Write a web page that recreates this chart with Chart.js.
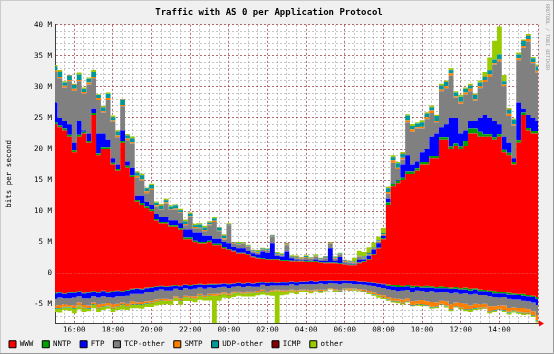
<!DOCTYPE html>
<html>
<head>
<meta charset="utf-8">
<script src="https://cdn.jsdelivr.net/npm/chart.js@4/dist/chart.umd.min.js"></script>
<style>
  html, body { margin: 0; padding: 0; background: #f0f0f0; }
  #wrap { width: 554px; height: 354px; }
</style>
</head>
<body>
<div id="wrap"><canvas id="chart" width="554" height="354"></canvas></div>
<script>
// time axis: hours since midnight of the first day, one sample every 15 minutes (15:00 -> 16:00 next day)
const hours = [];
for (let h = 15; h <= 40; h += 0.25) hours.push(h);

const protocols = ['WWW', 'NNTP', 'FTP', 'TCP-other', 'SMTP', 'UDP-other', 'ICMP', 'other'];
const colors = ['#ff0000', '#00a000', '#0000ff', '#808080', '#ff8000', '#009999', '#800000', '#99cc00'];

// outgoing traffic, Mbit/s (drawn above zero)
const wwwOut = [24,23.5,23,22,19.5,22,22.5,21,25.5,19,20,20,17.5,16.5,21,17,15.5,11.5,11,10.5,10,
  8.5,8,8,7.5,7.5,7,5.5,5.5,5,4.8,4.8,5,4.5,4.5,4,
  3.8,3.5,3.2,3.2,3,2.6,2.4,2.3,2.2,2.2,2.2,2.0,2.0,1.9,1.9,1.9,1.8,1.8,1.8,1.7,1.6,1.6,1.6,1.5,1.4,1.3,
  1.3,1.6,1.8,2.2,3.0,4.0,5.5,
  11,14,14.5,15,16,16,16.5,17.5,17.5,18.5,18.5,21.5,21.5,20,20.5,20,20.5,22.5,22.5,22,22,22,21.5,22,19.5,19,17.5,21,25.5,23,22.5,22.5];
const nntpOut = [0.3,0.3,0.3,0.3,0.3,0.3,0.3,0.3,0.3,0.3,0.3,0.3,0.3,0.3,0.3,0.3,0.3,0.3,0.3,0.3,0.3,
  0.25,0.25,0.25,0.25,0.25,0.25,0.25,0.25,0.25,0.25,0.25,0.25,0.25,0.25,0.25,
  0.12,0.12,0.12,0.12,0.12,0.12,0.12,0.12,0.12,0.12,0.12,0.12,0.12,0.12,0.12,0.12,0.12,0.12,0.12,0.12,0.12,0.12,0.12,0.12,0.12,0.12,
  0.12,0.12,0.12,0.12,0.12,0.12,0.12,
  0.4,0.4,0.4,0.4,0.4,0.4,0.4,0.4,0.4,0.4,0.4,0.4,0.4,0.4,0.4,0.4,0.8,0.8,0.8,0.8,0.4,0.4,0.4,0.4,0.4,0.4,0.4,0.4,0.4,0.4,0.4,0.4];
const ftpOut = [3.2,1.2,1.2,1.7,1.2,2.2,0.2,1.2,0.7,3.2,2.2,1.2,0.7,0.7,1.7,0.7,1.2,0.7,1.2,0.7,0.7,
  0.8,0.8,0.8,0.8,0.8,0.8,1.3,1.3,1.3,1.5,1.0,0.8,0.8,0.8,0.8,
  0.9,0.6,0.7,0.7,0.5,0.5,0.5,1.1,1.0,2.5,0.5,0.6,1.4,0.4,0.2,0.1,0.2,0.1,0.3,0.2,0.3,2.3,0.3,1.0,0.1,0.1,
  0.1,0.5,0.3,0.5,0.7,0.7,0.4,
  0.6,0.1,0.1,2.1,2.6,1.1,1.1,1.6,2.1,3.1,3.6,1.6,2.1,4.6,4.1,2.1,1.7,1.2,1.2,2.2,3.1,2.6,2.6,1.6,2.1,1.6,0.6,6.1,0.6,2.1,2.1,1.6];
const tcpOut = [4.9,6.4,5.4,6.9,8.4,6.4,5.9,7.9,4.9,5.4,3.4,6.4,5.9,4.4,3.9,3.4,3.9,2.9,2.4,1.4,2.4,
  1.2,1.2,2.2,1.7,1.7,1.7,0.7,2.0,0.7,0.7,0.7,1.7,2.7,1.2,0.4,
  2.9,0.5,0.6,0.7,0.6,0.3,0.3,0.3,0.3,1.1,0.2,0.2,1.0,0.2,0.2,0.2,0.4,0.3,0.4,0.2,0.4,0.7,0.3,0.4,0.2,0.2,
  0.1,0.4,0.2,0.2,0.2,0.2,0.2,
  0.8,3.3,1.8,0.8,5.3,5.3,5.3,3.8,4.8,3.8,1.8,5.8,5.8,6.8,3.3,4.8,5.8,4.8,3.3,4.8,5.3,6.6,9.1,10.1,8.1,4.3,5.3,6.8,9.8,11.8,8.8,7.8];
const smtpOut = [0.3,0.2,0.3,0.2,0.3,0.2,0.3,0.3,0.2,0.3,0.2,0.3,0.2,0.3,0.2,0.3,0.2,0.3,0.2,0.3,0.2,
  0.2,0.1,0.2,0.1,0.2,0.1,0.2,0.1,0.2,0.1,0.2,0.1,0.2,0.1,0.2,
  0.1,0.06,0.1,0.06,0.1,0.06,0.1,0.06,0.1,0.06,0.1,0.06,0.1,0.06,0.1,0.06,0.1,0.06,0.1,0.06,0.1,0.06,0.1,0.06,0.1,0.06,
  0.1,0.1,0.1,0.1,0.1,0.1,0.1,
  0.3,0.4,0.2,0.3,0.3,0.4,0.2,0.3,0.3,0.4,0.2,0.3,0.3,0.4,0.2,0.3,0.3,0.4,0.2,0.3,0.3,0.4,0.2,0.3,0.3,0.4,0.2,0.3,0.3,0.4,0.2,0.3];
const udpOut = [0.6,0.8,0.5,0.7,0.6,0.9,0.5,0.6,0.8,0.5,0.6,0.7,0.5,0.6,0.8,0.5,0.6,0.5,0.7,0.5,0.6,
  0.4,0.5,0.3,0.4,0.5,0.3,0.4,0.4,0.3,0.5,0.4,0.3,0.4,0.5,0.4,
  0.1,0.15,0.1,0.12,0.15,0.1,0.12,0.1,0.15,0.12,0.1,0.12,0.15,0.1,0.12,0.1,0.15,0.12,0.1,0.12,0.15,0.1,0.12,0.1,0.15,0.12,
  0.15,0.1,0.2,0.15,0.1,0.2,0.15,
  0.6,0.5,0.7,0.6,0.8,0.5,0.6,0.7,0.6,0.5,0.8,0.6,0.7,0.5,0.6,0.8,0.6,0.5,0.7,0.6,0.5,0.7,0.6,0.8,0.5,0.6,0.7,0.6,0.8,0.5,0.6,0.7];
const icmpOut = [0.02,0.03,0.02,0.02,0.03,0.02,0.02,0.03,0.02,0.02,0.03,0.02,0.02,0.03,0.02,0.02,0.03,0.02,0.02,0.03,0.02,
  0.02,0.02,0.03,0.02,0.02,0.03,0.02,0.02,0.03,0.02,0.02,0.03,0.02,0.02,0.03,
  0.02,0.02,0.02,0.02,0.02,0.02,0.02,0.02,0.02,0.02,0.02,0.02,0.02,0.02,0.02,0.02,0.02,0.02,0.02,0.02,0.02,0.02,0.02,0.02,0.02,0.02,
  0.02,0.02,0.02,0.02,0.02,0.02,0.02,
  0.03,0.02,0.02,0.03,0.02,0.02,0.03,0.02,0.02,0.03,0.02,0.02,0.03,0.02,0.02,0.03,0.02,0.02,0.03,0.02,0.02,0.03,0.02,0.02,0.03,0.02,0.02,0.03,0.02,0.02,0.03,0.02];
const otherOut = [0.2,0.3,0.2,0.1,0.2,0.3,0.2,0.2,0.3,0.1,0.2,0.2,0.3,0.2,0.1,0.2,0.3,0.2,0.2,0.1,0.2,
  0.2,0.3,0.2,0.2,0.1,0.2,0.3,0.2,0.2,0.2,0.3,0.2,0.2,0.1,0.2,
  0.1,0.1,0.2,0.1,0.1,0.1,0.2,0.1,0.1,0.1,0.2,0.1,0.1,0.1,0.2,0.1,0.1,0.1,0.2,0.1,0.1,0.1,0.2,0.1,0.1,0.1,
  0.6,0.8,0.7,0.9,0.7,0.6,0.8,
  0.2,0.3,0.2,0.3,0.2,0.3,0.2,0.3,0.2,0.3,0.2,0.3,0.2,0.3,0.2,0.3,0.2,0.3,0.2,0.3,0.8,2.0,3.0,4.5,1.0,0.3,0.2,0.3,0.2,0.3,0.2,0.3];

// incoming traffic, Mbit/s (drawn below zero)
const wwwIn = [3.1,3.0,3.2,3.0,3.0,2.9,3.1,3.0,2.9,3.0,2.8,3.0,2.9,2.8,2.9,2.7,
  2.5,2.4,2.5,2.3,2.2,
  2.1,2.0,2.1,2.0,1.9,2.0,1.8,1.9,1.8,1.7,1.8,1.7,1.7,
  1.7,1.6,1.7,1.6,1.5,1.6,1.5,1.6,1.5,1.4,1.5,1.4,1.5,1.4,1.4,1.3,1.4,1.3,
  1.3,1.2,1.3,1.2,1.2,1.1,1.2,1.2,1.1,1.2,1.2,1.3,1.3,1.4,1.5,1.6,1.7,1.8,
  1.9,1.9,2.0,1.9,2.0,2.0,2.1,2.0,2.1,2.2,2.1,2.2,2.3,2.2,2.4,2.3,2.5,2.4,2.6,2.7,
  2.8,2.9,3.0,3.0,3.1,3.2,3.3,3.3,3.5,3.6,3.8];
const nntpIn = [0.1,0.1,0.1,0.1,0.1,0.1,0.1,0.1,0.1,0.1,0.1,0.1,0.1,0.1,0.1,0.1,0.1,0.1,0.1,0.1,0.1,0.1,0.1,0.1,0.1,0.1,0.1,0.1,0.1,0.1,0.1,0.1,0.1,0.1,
  0.05,0.05,0.05,0.05,0.05,0.05,0.05,0.05,0.05,0.05,0.05,0.05,0.05,0.05,0.05,0.05,0.05,0.05,0.05,0.05,0.05,0.05,0.05,0.05,0.05,0.05,0.05,0.05,0.05,0.05,0.05,0.05,0.05,0.05,0.05,
  0.2,0.2,0.3,0.2,0.2,0.3,0.2,0.2,0.3,0.2,0.2,0.3,0.2,0.2,0.3,0.2,0.3,0.3,0.2,0.3,0.2,0.2,0.3,0.2,0.2,0.3,0.2,0.2,0.3,0.2,0.2,0.3];
const ftpIn = [0.9,0.8,0.7,0.9,0.8,0.7,0.8,0.9,0.7,0.8,0.8,0.7,0.9,0.8,0.7,0.8,0.7,0.8,0.7,0.6,0.7,
  0.6,0.5,0.6,0.7,0.5,0.6,0.5,0.6,0.6,0.5,0.6,0.5,0.6,0.5,0.5,0.6,0.5,0.5,0.6,0.5,0.5,0.6,0.4,0.5,0.5,0.4,0.5,0.5,0.4,0.5,0.4,
  0.4,0.5,0.4,0.4,0.5,0.4,0.4,0.5,0.4,0.4,0.5,0.4,0.5,0.5,0.5,0.6,0.6,
  0.6,0.6,0.7,0.6,0.6,0.7,0.6,0.6,0.7,0.6,0.7,0.6,0.6,0.7,0.6,0.7,0.6,0.6,0.7,0.6,0.6,0.7,0.6,0.7,0.6,0.7,0.8,0.7,0.8,0.8,0.9,1.0];
const tcpIn = [1.1,1.2,1.0,1.1,1.3,1.0,1.1,1.2,1.0,1.1,1.2,1.0,1.1,1.2,1.0,1.3,1.2,1.4,1.3,1.5,1.4,
  1.4,1.5,1.3,1.4,1.2,1.3,1.2,1.1,1.2,1.0,1.1,1.0,0.9,1.0,0.9,
  0.9,0.8,0.9,0.8,0.9,0.8,0.7,0.8,0.9,0.8,0.7,0.8,0.8,0.9,0.8,0.9,
  0.9,1.0,0.9,1.0,0.9,0.8,0.9,1.0,0.9,0.8,0.7,0.8,0.8,0.9,1.0,1.1,1.2,
  1.2,1.3,1.2,1.4,1.3,1.5,1.6,1.4,1.5,1.7,1.6,1.4,1.5,1.8,1.6,1.5,1.7,1.8,1.6,1.5,1.4,1.6,1.5,1.3,1.4,1.5,1.3,1.4,1.2,1.3,1.4,1.6];
const smtpIn = [0.4,0.5,0.4,0.3,0.4,0.5,0.4,0.4,0.3,0.5,0.4,0.4,0.5,0.4,0.3,0.4,0.4,0.3,0.4,0.3,0.3,
  0.3,0.2,0.3,0.2,0.2,0.3,0.2,0.2,0.3,0.2,0.2,0.2,0.3,0.2,0.2,0.2,0.2,0.1,0.2,0.2,0.1,0.2,0.2,0.1,
  0.2,0.1,0.2,0.2,0.1,0.2,0.1,0.1,0.2,0.1,0.2,0.1,0.1,0.2,0.1,0.1,0.2,0.1,0.2,0.2,0.2,0.3,0.2,0.3,
  0.3,0.4,0.3,0.5,0.4,0.6,0.5,0.7,0.6,0.8,0.6,0.5,0.7,0.8,0.6,0.7,0.9,0.6,0.7,0.5,0.6,0.8,0.6,0.5,0.7,0.6,0.5,0.6,0.7,0.5,0.6,0.8];
const udpIn = [0.1,0.1,0.1,0.1,0.1,0.1,0.1,0.1,0.1,0.1,0.1,0.1,0.1,0.1,0.1,0.1,0.1,0.1,0.1,0.1,0.1,
  0.05,0.05,0.05,0.05,0.05,0.05,0.05,0.05,0.05,0.05,0.05,0.05,0.05,0.05,0.05,0.05,0.05,0.05,0.05,0.05,0.05,0.05,0.05,0.05,
  0.05,0.05,0.05,0.05,0.05,0.05,0.05,0.05,0.05,0.05,0.05,0.05,0.05,0.05,0.05,0.05,0.05,0.05,0.05,0.05,0.05,0.05,0.05,0.05,
  0.1,0.1,0.1,0.1,0.1,0.1,0.1,0.1,0.1,0.1,0.1,0.1,0.1,0.1,0.1,0.1,0.1,0.1,0.1,0.1,0.1,0.1,0.1,0.1,0.1,0.1,0.1,0.1,0.1,0.1,0.1,0.1];
const icmpIn = [0.02,0.02,0.02,0.02,0.02,0.02,0.02,0.02,0.02,0.02,0.02,0.02,0.02,0.02,0.02,0.02,0.02,0.02,0.02,0.02,0.02,
  0.02,0.02,0.02,0.02,0.02,0.02,0.02,0.02,0.02,0.02,0.02,0.02,0.02,0.02,0.02,0.02,0.02,0.02,0.02,0.02,0.02,0.02,0.02,0.02,
  0.02,0.02,0.02,0.02,0.02,0.02,0.02,0.02,0.02,0.02,0.02,0.02,0.02,0.02,0.02,0.02,0.02,0.02,0.02,0.02,0.02,0.02,0.02,0.02,
  0.02,0.02,0.02,0.02,0.02,0.02,0.02,0.02,0.02,0.02,0.02,0.02,0.02,0.02,0.02,0.02,0.02,0.02,0.02,0.02,0.02,0.02,0.02,0.02,0.02,0.02,0.02,0.02,0.02,0.02,0.02,0.02];
const otherIn = [0.5,0.6,0.4,0.5,0.7,0.5,0.6,0.4,0.5,0.6,0.5,0.4,0.6,0.5,0.7,0.5,0.6,0.5,0.6,0.5,0.6,
  0.6,0.7,0.5,0.6,0.5,0.7,0.6,0.5,0.6,0.7,0.5,0.8,4.6,0.9,0.6,
  0.5,0.6,0.5,0.4,0.5,0.6,0.4,0.5,0.4,0.6,5.5,0.5,0.4,0.3,0.3,0.2,
  0.2,0.2,0.1,0.2,0.1,0.1,0.2,0.1,0.1,0.1,0.2,0.1,0.1,0.2,0.2,0.3,0.2,
  0.2,0.2,0.3,0.2,0.2,0.1,0.2,0.2,0.1,0.2,0.2,0.1,0.2,0.2,0.1,0.2,0.2,0.3,0.2,0.2,0.1,0.2,0.2,0.1,0.2,0.3,0.2,0.2,0.3,0.2,0.2,0.3];

const outSeries = [wwwOut, nntpOut, ftpOut, tcpOut, smtpOut, udpOut, icmpOut, otherOut];
const inSeries = [wwwIn, nntpIn, ftpIn, tcpIn, smtpIn, udpIn, icmpIn, otherIn];

const mono = "'DejaVu Sans Mono', monospace";
const GRID = 'rgba(140,140,140,0.5)';
const MGRID = 'rgba(140,30,30,0.65)';
const pad2 = n => (n < 10 ? '0' : '') + n;

const datasets = [];
protocols.forEach((name, k) => {
  datasets.push({
    label: name, data: outSeries[k], stack: 'out',
    backgroundColor: colors[k], borderColor: colors[k], borderWidth: 0,
    pointRadius: 0, stepped: 'middle', fill: k === 0 ? 'origin' : '-1'
  });
});
protocols.forEach((name, k) => {
  datasets.push({
    label: name, data: inSeries[k].map(v => -v), stack: 'in',
    backgroundColor: colors[k], borderColor: colors[k], borderWidth: 0,
    pointRadius: 0, stepped: 'middle', fill: k === 0 ? 'origin' : '-1'
  });
});

const frame = {
  id: 'frame',
  beforeDraw(chart) {
    const {ctx, chartArea: a, width, height} = chart;
    ctx.save();
    ctx.fillStyle = '#f0f0f0';
    ctx.fillRect(0, 0, width, height);
    ctx.fillStyle = '#cbcbcb';
    ctx.fillRect(0, 0, width, 1);
    ctx.fillRect(0, 0, 1, height);
    ctx.fillStyle = '#999999';
    ctx.fillRect(0, height - 1, width, 1);
    ctx.fillRect(width - 1, 0, 1, height);
    ctx.fillStyle = '#ffffff';
    ctx.fillRect(a.left, a.top, a.right - a.left, a.bottom - a.top);
    ctx.restore();
  },
  afterDraw(chart) {
    const {ctx, chartArea: a} = chart;
    ctx.save();
    // arrow at end of the time axis
    ctx.fillStyle = '#ff0000';
    ctx.beginPath();
    ctx.moveTo(a.right + 6, a.bottom + 0.5);
    ctx.lineTo(a.right + 1, a.bottom - 2.5);
    ctx.lineTo(a.right + 1, a.bottom + 3.5);
    ctx.closePath();
    ctx.fill();
    // rrdtool signature
    ctx.translate(547, 4);
    ctx.rotate(Math.PI / 2);
    ctx.fillStyle = '#9a9a9a';
    ctx.font = "5px " + mono;
    ctx.textBaseline = 'middle';
    ctx.fillText('RRDTOOL / TOBI OETIKER', 0, 0);
    ctx.restore();
  }
};

new Chart(document.getElementById('chart'), {
  type: 'line',
  data: { labels: hours, datasets },
  plugins: [frame],
  options: {
    responsive: false,
    animation: false,
    events: [],
    layout: { padding: { left: 0, right: 16, top: 0, bottom: -4 } },
    plugins: {
      title: {
        display: true,
        text: 'Traffic with AS 0 per Application Protocol',
        color: '#000',
        font: { family: mono, size: 9, weight: 'bold', lineHeight: 1.2 },
        padding: { top: 7, bottom: 7 }
      },
      legend: {
        position: 'bottom',
        align: 'start',
        labels: {
          boxWidth: 7, boxHeight: 7, padding: 9, color: '#000',
          font: { family: mono, size: 7.5, lineHeight: 1 },
          generateLabels: chart => Chart.defaults.plugins.legend.labels.generateLabels(chart)
            .filter(l => l.datasetIndex < protocols.length)
            .map(l => Object.assign(l, { lineWidth: 1, strokeStyle: '#000' }))
        }
      },
      tooltip: { enabled: false }
    },
    scales: {
      x: {
        type: 'linear', min: 15, max: 40, z: 1,
        ticks: {
          stepSize: 0.5, autoSkip: false, maxRotation: 0, padding: 3, color: '#000',
          font: { family: mono, size: 7.5 },
          callback: v => (v % 2 === 0 && v > 15 && v < 40) ? pad2(v % 24) + ':00' : ''
        },
        grid: { color: c => (c.tick && c.tick.value % 2 === 0) ? MGRID : GRID, drawTicks: false, lineWidth: 1 },
        border: { color: '#404040', dash: [2, 2] },
        afterFit: s => { s.height = 8.5; }
      },
      y: {
        stacked: true, min: -8, max: 40, z: 1,
        ticks: {
          stepSize: 1, autoSkip: false, padding: 3, color: '#000',
          font: { family: mono, size: 7.5 },
          callback: v => v % 5 !== 0 ? '' : (v === 0 ? '0' : v + ' M')
        },
        grid: { color: c => (c.tick && c.tick.value % 5 === 0) ? MGRID : GRID, drawTicks: false, lineWidth: 1 },
        border: { color: '#404040', dash: [2, 2] },
        title: {
          display: true, text: 'bits per second', color: '#000',
          font: { family: mono, size: 7.5 }, padding: { top: 5, bottom: 0 }
        },
        afterFit: s => { s.width = 55; }
      }
    }
  }
});
</script>
</body>
</html>
